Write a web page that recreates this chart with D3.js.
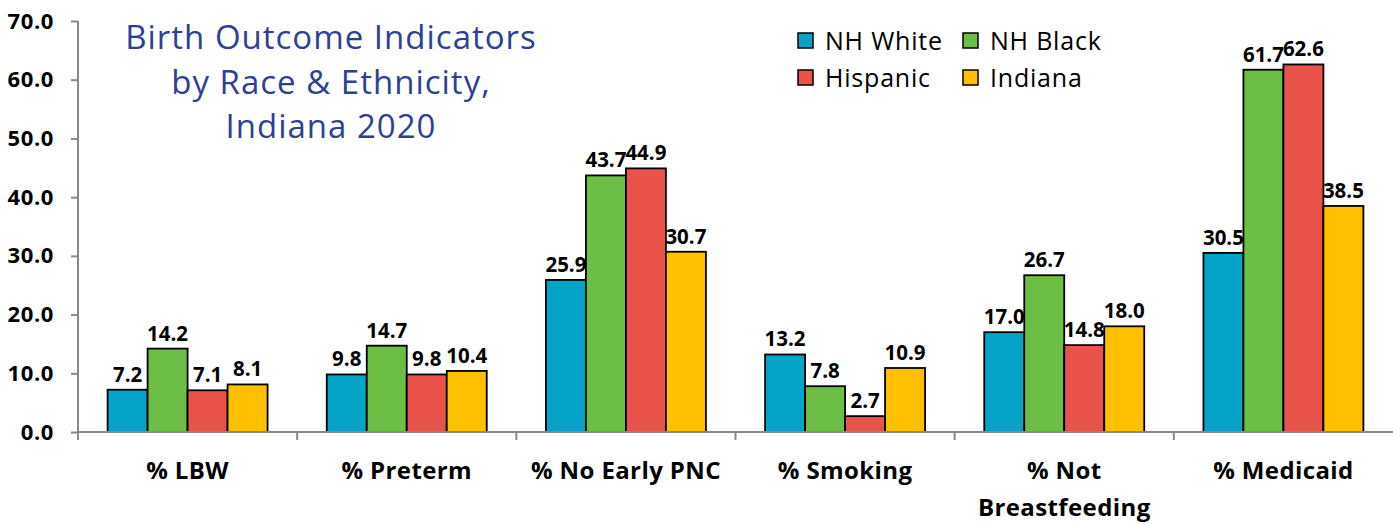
<!DOCTYPE html>
<html>
<head>
<meta charset="utf-8">
<script src="https://cdn.jsdelivr.net/npm/d3@7"></script>
<style>
body { margin: 0; background: #fff; }
svg text { font-family: "Open Sans", "Noto Sans", sans-serif; }
</style>
</head>
<body>
<div id="chart"></div>
<script>
var categories = ["% LBW", "% Preterm", "% No Early PNC", "% Smoking", "% Not\nBreastfeeding", "% Medicaid"];
var seriesNames = ["NH White", "NH Black", "Hispanic", "Indiana"];
var nhWhite = [7.2, 9.8, 25.9, 13.2, 17.0, 30.5];
var nhBlack = [14.2, 14.7, 43.7, 7.8, 26.7, 61.7];
var hispanic = [7.1, 9.8, 44.9, 2.7, 14.8, 62.6];
var indiana = [8.1, 10.4, 30.7, 10.9, 18.0, 38.5];
var yTicks = [0, 10, 20, 30, 40, 50, 60, 70];
var colors = ["#05a3c8", "#6dbe45", "#e9534a", "#ffc000"];
var titleLines = ["Birth Outcome Indicators", "by Race & Ethnicity,", "Indiana 2020"];

var values = [nhWhite, nhBlack, hispanic, indiana];
var W = 1393, H = 524;
var margin = {top: 21, right: 0, bottom: 92, left: 78};
var width = W - margin.left - margin.right,
	height = H - margin.top - margin.bottom;

var svg = d3.select("#chart").append("svg")
	.attr("width", W)
	.attr("height", H);

var g = svg.append("g")
	.attr("transform", "translate(" + margin.left + "," + margin.top + ")");

var x0 = d3.scaleBand().domain(categories).range([0, width]).padding(0);
var x1 = d3.scaleBand().domain(seriesNames).range([0, x0.bandwidth()]).paddingInner(0).paddingOuter(0.74);
var y = d3.scaleLinear().domain([0, 70]).range([height, 0]);

// y axis
var yAxis = g.append("g")
	.call(d3.axisLeft(y).tickValues(yTicks).tickSize(7).tickPadding(17).tickFormat(d3.format(".1f")));
yAxis.select(".domain").attr("stroke", "#898989").attr("stroke-width", 2).attr("d", "M0,0V" + (height + 8));
yAxis.selectAll(".tick line").attr("stroke", "#898989").attr("stroke-width", 2);
yAxis.selectAll(".tick text")
	.attr("fill", "#000")
	.style("font-size", "22px")
	.style("font-weight", "bold")
	.style("letter-spacing", "0.6px");

// bars
var groups = g.selectAll(".group")
	.data(categories)
	.enter().append("g")
	.attr("class", "group")
	.attr("transform", function(d) { return "translate(" + x0(d) + ",0)"; });

groups.selectAll("rect")
	.data(function(d, i) { return seriesNames.map(function(s, j) { return {s: s, v: values[j][i], c: colors[j]}; }); })
	.enter().append("rect")
	.attr("x", function(d) { return x1(d.s); })
	.attr("y", function(d) { return y(d.v); })
	.attr("width", x1.bandwidth())
	.attr("height", function(d) { return height - y(d.v); })
	.attr("fill", function(d) { return d.c; })
	.attr("stroke", "#000")
	.attr("stroke-width", 1.8);

groups.selectAll(".val")
	.data(function(d, i) { return seriesNames.map(function(s, j) { return {s: s, v: values[j][i]}; }); })
	.enter().append("text")
	.attr("class", "val")
	.attr("x", function(d) { return x1(d.s) + x1.bandwidth() / 2; })
	.attr("y", function(d) { return y(d.v) - 8; })
	.attr("text-anchor", "middle")
	.style("font-size", "20.5px")
	.style("font-weight", "bold")
	.text(function(d) { return d3.format(".1f")(d.v); });

// x axis
var xAxis = g.append("g")
	.attr("transform", "translate(0," + height + ")");
xAxis.append("line")
	.attr("x1", 0).attr("x2", width)
	.attr("stroke", "#898989").attr("stroke-width", 2);
xAxis.selectAll(".xtick")
	.data(categories.slice(1))
	.enter().append("line")
	.attr("x1", function(d) { return x0(d); })
	.attr("x2", function(d) { return x0(d); })
	.attr("y1", 0).attr("y2", 8)
	.attr("stroke", "#898989").attr("stroke-width", 2);

xAxis.selectAll(".xlab")
	.data(categories)
	.enter().append("text")
	.attr("class", "xlab")
	.attr("x", function(d) { return x0(d) + x0.bandwidth() / 2; })
	.attr("y", 47)
	.attr("text-anchor", "middle")
	.style("font-size", "24px")
	.style("font-weight", "bold")
	.style("letter-spacing", "0.4px")
	.each(function(d) {
		var lines = d.split("\n");
		var t = d3.select(this);
		lines.forEach(function(l, i) {
			t.append("tspan")
				.attr("x", x0(d) + x0.bandwidth() / 2)
				.attr("dy", i === 0 ? 0 : 37)
				.text(l);
		});
	});

// title
svg.append("text")
	.attr("x", 331)
	.attr("y", 49)
	.attr("text-anchor", "middle")
	.attr("fill", "#2e3f96")
	.style("font-size", "33px")
	.style("letter-spacing", "1px")
	.selectAll("tspan")
	.data(titleLines)
	.enter().append("tspan")
	.attr("x", 331)
	.attr("dy", function(d, i) { return i === 0 ? 0 : 44.5; })
	.text(function(d) { return d; });

// legend
var legend = svg.append("g");
var legItems = legend.selectAll(".leg")
	.data(seriesNames)
	.enter().append("g")
	.attr("class", "leg")
	.attr("transform", function(d, i) { return "translate(" + (798 + (i % 2) * 165) + "," + (33 + Math.floor(i / 2) * 37) + ")"; });
legItems.append("rect")
	.attr("width", 15).attr("height", 15)
	.attr("fill", function(d, i) { return colors[i]; })
	.attr("stroke", "#000").attr("stroke-width", 1.5);
legItems.append("text")
	.attr("x", 27)
	.attr("y", 8)
	.attr("dy", "0.35em")
	.style("font-size", "25px")
	.style("letter-spacing", "0.8px")
	.text(function(d) { return d; });
</script>
</body>
</html>
